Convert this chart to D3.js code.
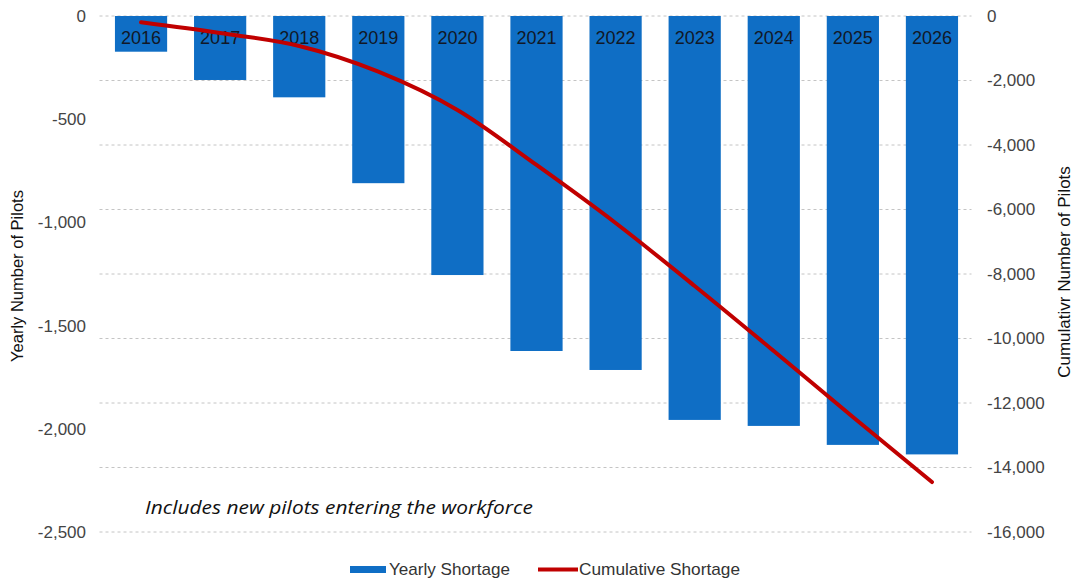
<!DOCTYPE html>
<html><head><meta charset="utf-8">
<script src="https://cdn.jsdelivr.net/npm/d3@7"></script>
<style>body{margin:0;background:#fff}svg{display:block}</style>
</head><body>
<svg id="c" width="1076" height="579"></svg>
<script>
const years = ["2016","2017","2018","2019","2020","2021","2022","2023","2024","2025","2026"];
const yearly = [-173,-310,-394,-810,-1255,-1623,-1715,-1957,-1986,-2078,-2124];
const cumulative = [-195,-527,-930,-1727,-2915,-4620,-6419,-8372,-10388,-12434,-14450];
const leftTicks = [0,-500,-1000,-1500,-2000,-2500];
const rightTicks = [0,-2000,-4000,-6000,-8000,-10000,-12000,-14000,-16000];

const svg = d3.select("#c");
const x0 = 101.5, x1 = 971.5, yTop = 16, yBot = 532;
const x = d3.scaleBand().domain(years).range([x0,x1]).paddingInner(0.34).paddingOuter(0.17);
const yL = d3.scaleLinear().domain([0,-2500]).range([yTop,yBot]);
const yR = d3.scaleLinear().domain([0,-16000]).range([yTop,yBot]);
const fmt = d => d3.format(",")(d).replace("\u2212","-");

// gridlines
svg.append("g").selectAll("line").data(rightTicks).join("line")
  .attr("x1",x0-2).attr("x2",x1).attr("y1",d=>yR(d)).attr("y2",d=>yR(d))
  .attr("stroke","#c4c4c4").attr("stroke-width",1).attr("stroke-dasharray","3,3");

// bars
svg.append("g").selectAll("rect").data(years).join("rect")
  .attr("x",d=>x(d)).attr("width",x.bandwidth())
  .attr("y",yL(0)).attr("height",(d,i)=>yL(yearly[i])-yL(0))
  .attr("fill","#0f6ec5");

// year labels
svg.append("g").selectAll("text").data(years).join("text")
  .attr("x",d=>x(d)+x.bandwidth()/2).attr("y",44)
  .attr("text-anchor","middle").attr("font-family","Liberation Sans, Arial, sans-serif")
  .attr("font-size",18).attr("fill","#111827").text(d=>d);

// line
const line = d3.line().x((d,i)=>x(years[i])+x.bandwidth()/2).y(d=>yR(d)).curve(d3.curveMonotoneX);
svg.append("path").datum(cumulative).attr("d",line)
  .attr("fill","none").attr("stroke","#c00000").attr("stroke-width",4).attr("stroke-linecap","round");

// left axis
const axL = d3.axisLeft(yL).tickValues(leftTicks).tickFormat(fmt).tickSize(0).tickPadding(0);
const gL = svg.append("g").attr("transform","translate(86,0)").call(axL);
gL.select(".domain").remove();
gL.selectAll("text").attr("font-family","Liberation Sans, Arial, sans-serif").attr("font-size",17).attr("fill","#444");

// right axis
const axR = d3.axisRight(yR).tickValues(rightTicks).tickFormat(fmt).tickSize(0).tickPadding(0);
const gR = svg.append("g").attr("transform","translate(987,0)").call(axR);
gR.select(".domain").remove();
gR.selectAll("text").attr("font-family","Liberation Sans, Arial, sans-serif").attr("font-size",17).attr("fill","#444");

// axis titles
svg.append("text").attr("transform","translate(23,276) rotate(-90)").attr("text-anchor","middle")
  .attr("font-family","Liberation Sans, Arial, sans-serif").attr("font-size",16.5).attr("fill","#111")
  .text("Yearly Number of Pilots");
svg.append("text").attr("transform","translate(1070,272) rotate(-90)").attr("text-anchor","middle")
  .attr("font-family","Liberation Sans, Arial, sans-serif").attr("font-size",17).attr("fill","#111")
  .text("Cumulativr Number of Pilots");

// note
svg.append("text").attr("x",145).attr("y",514).attr("font-family","Open Sans, sans-serif")
  .attr("font-style","italic").attr("font-size",18).attr("fill","#111")
  .attr("textLength",388).attr("lengthAdjust","spacingAndGlyphs")
  .text("Includes new pilots entering the workforce");

// legend
const lg = svg.append("g").attr("font-family","Liberation Sans, Arial, sans-serif").attr("font-size",17).attr("fill","#333");
lg.append("rect").attr("x",350).attr("y",566).attr("width",36).attr("height",7).attr("fill","#0f6ec5");
lg.append("text").attr("x",389).attr("y",575).attr("textLength",121).attr("lengthAdjust","spacingAndGlyphs").text("Yearly Shortage");
lg.append("line").attr("x1",538).attr("x2",578).attr("y1",569.5).attr("y2",569.5).attr("stroke","#c00000").attr("stroke-width",4);
lg.append("text").attr("x",579).attr("y",575).attr("textLength",161).attr("lengthAdjust","spacingAndGlyphs").text("Cumulative Shortage");
</script>
</body></html>
